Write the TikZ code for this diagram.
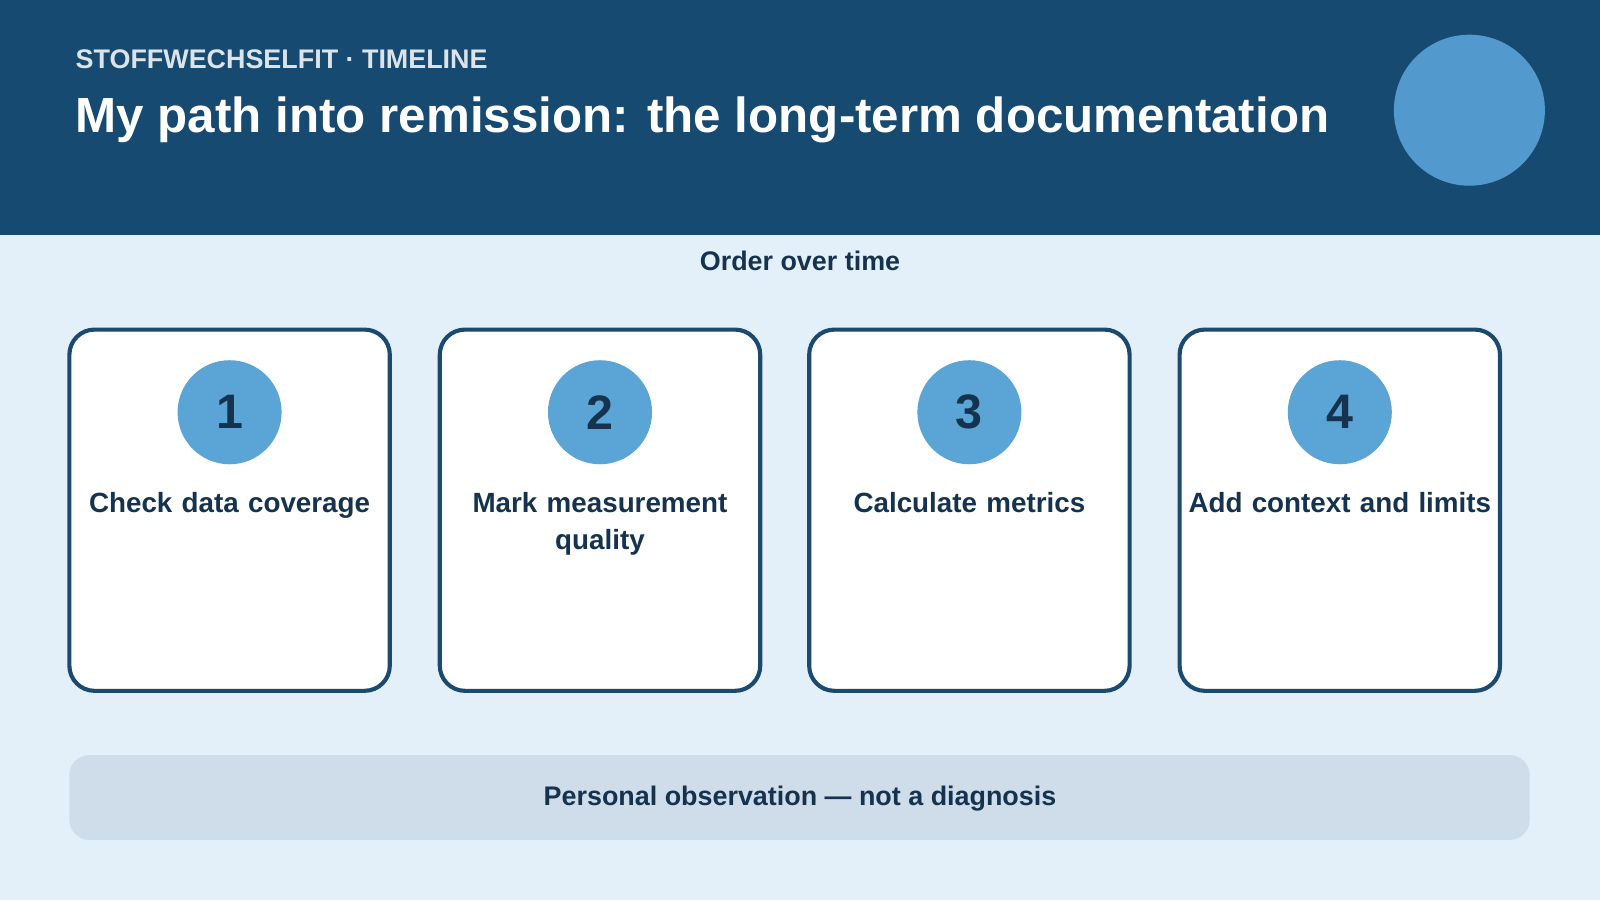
\documentclass[tikz,border=0pt]{standalone}
\usepackage{fontspec}
\setmainfont{Liberation Sans}
\definecolor{hdr}{HTML}{174A70}
\definecolor{bg}{HTML}{E3F0FA}
\definecolor{dark}{HTML}{15334F}
\definecolor{edge}{HTML}{1B4A6E}
\definecolor{dot}{HTML}{5BA4D6}
\definecolor{bigdot}{HTML}{5299CE}
\definecolor{note}{HTML}{CEDDE9}
\begin{document}
\begin{tikzpicture}[x=0.02cm,y=-0.02cm,
 card/.style={draw=edge,line width=2.3pt,fill=white,rounded corners=14pt},
 num/.style={circle,fill=dot,minimum size=2.04cm,inner sep=0pt,text=dark,font=\bfseries\fontsize{27}{30}\selectfont},
 lab/.style={text=dark,font=\bfseries\fontsize{15.5}{21}\selectfont,align=center,text width=6.2cm}]
\fill[bg] (0,0) rectangle (1568,882);
\useasboundingbox (0,0) rectangle (1568,882);
\fill[hdr] (0,0) rectangle (1568,230);
\fill[bigdot] (1440,108) circle (74);
\node[anchor=base west,text=white!85!hdr,font=\bfseries\fontsize{15}{18}\selectfont] (kick) at (68,67) {STOFFWECHSELFIT · TIMELINE};
\node[anchor=base west,text=white,font=\bfseries\fontsize{27.5}{32}\selectfont] (title) at (68,130) {My path into remission: the long-term documentation};
\node[text=dark,font=\bfseries\fontsize{15}{18}\selectfont] (order) at (784,256) {Order over time};
\foreach \i/\x/\t in {1/68/Check data coverage,2/431/Mark measurement\\quality,3/793/Calculate metrics,4/1156/Add context and limits}{
 \draw[card] (\x,323) rectangle (\x+314,677);
 \node[num] (n\i) at (\x+157,404) {\i};
 \node[lab,anchor=north] (l\i) at (\x+157,476) {\t};
}
\fill[note,rounded corners=11pt] (68,740) rectangle (1499,823);
\node[text=dark,font=\bfseries\fontsize{15}{18}\selectfont] (disc) at (784,783) {Personal observation — not a diagnosis};
\end{tikzpicture}
\end{document}
